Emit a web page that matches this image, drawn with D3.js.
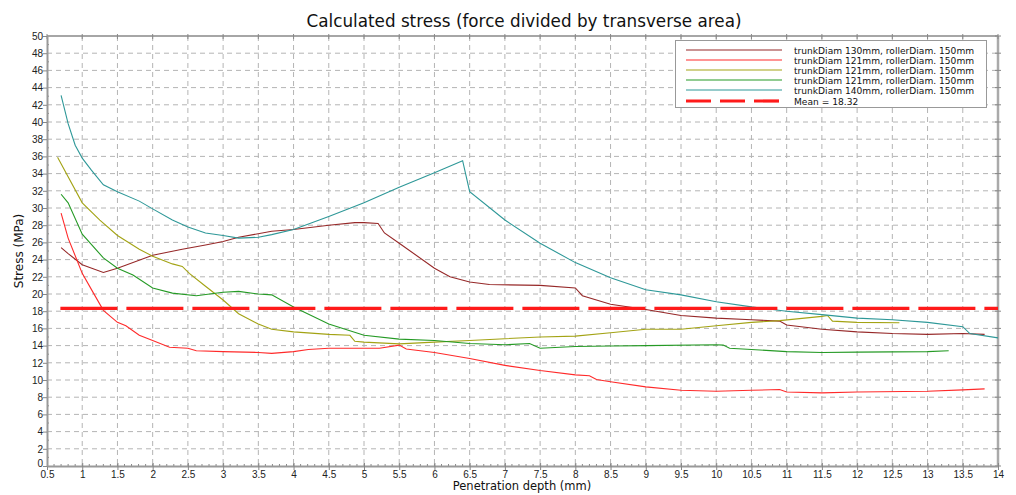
<!DOCTYPE html>
<html lang="en">
<head>
<meta charset="UTF-8">
<title>Calculated stress</title>
<script src="https://d3js.org/d3.v7.min.js"></script>
<style>
    body { margin: 0; background: #fff; }
    svg { display: block; font-family: "DejaVu Sans", sans-serif; }
    .tick text { font-size: 10px; fill: #222; }
</style>
</head>
<body>
<svg width="1016" height="495"></svg>
<script>
    // series data (depth mm, stress MPa)
    let x130 = [0.7,0.8,1.0,1.3,1.5,2.0,2.42,2.75,3.0,3.22,3.69,4.0,4.5,4.87,5.0,5.2,5.29,5.5,6.0,6.22,6.5,6.78,7.5,8.0,8.1,8.5,9.0,9.5,10.0,10.5,10.9,11.0,11.5,12.0,12.5,13.0,13.5,13.81];
    let y130 = [25.4,24.7,23.4,22.5,23.0,24.5,25.2,25.7,26.1,26.6,27.3,27.5,28.0,28.3,28.3,28.2,27.1,25.9,23.0,22.0,21.4,21.1,21.0,20.7,19.8,18.8,18.2,17.5,17.2,17.0,16.85,16.4,15.9,15.6,15.4,15.3,15.4,15.3];

    let x121a = [0.7,0.8,1.0,1.16,1.3,1.5,1.62,1.81,2.0,2.24,2.5,2.62,3.0,3.5,3.69,4.0,4.21,4.5,5.0,5.22,5.5,5.6,6.0,6.5,7.0,7.5,8.0,8.2,8.3,8.5,9.0,9.5,10.0,10.5,10.9,11.0,11.5,12.0,13.0,13.5,13.81];
    let y121a = [29.4,26.5,22.4,20.1,18.1,16.7,16.3,15.2,14.6,13.8,13.7,13.4,13.3,13.2,13.1,13.3,13.55,13.7,13.7,13.7,14.06,13.6,13.2,12.5,11.7,11.1,10.6,10.5,10.06,9.8,9.2,8.8,8.7,8.8,8.9,8.6,8.5,8.6,8.7,8.85,8.97];

    let x121b = [0.65,1.0,1.25,1.5,1.81,2.0,2.28,2.42,2.52,2.75,3.0,3.22,3.5,3.69,4.0,4.5,4.8,4.87,5.0,5.5,6.0,6.5,7.0,7.5,8.0,8.5,9.0,9.5,10.0,10.5,10.9,11.5,11.58,11.65,12.0,12.6];
    let y121b = [35.9,30.6,28.6,26.8,25.2,24.4,23.5,23.2,22.4,20.9,19.3,17.7,16.5,15.9,15.6,15.3,15.2,14.5,14.4,14.2,14.4,14.6,14.8,15.0,15.1,15.5,15.9,15.9,16.3,16.7,16.9,17.4,17.5,16.85,16.7,16.66];

    let x121c = [0.7,0.8,1.0,1.3,1.5,1.72,2.0,2.28,2.62,3.0,3.22,3.5,3.69,4.0,4.5,5.0,5.5,6.0,6.5,7.0,7.35,7.5,8.0,8.5,9.0,10.0,10.1,10.19,10.5,11.0,11.5,12.0,13.0,13.3];
    let y121c = [31.6,30.6,26.95,24.2,23.0,22.2,20.7,20.1,19.8,20.2,20.3,20.0,19.9,18.5,16.5,15.2,14.75,14.6,14.25,14.1,14.25,13.7,13.9,13.95,14.0,14.1,14.06,13.7,13.55,13.3,13.2,13.24,13.3,13.4];

    let x140 = [0.7,0.8,0.9,1.0,1.13,1.3,1.5,1.81,2.0,2.28,2.5,2.75,3.0,3.22,3.5,3.69,4.0,4.5,5.0,5.5,6.0,6.4,6.5,7.0,7.5,8.0,8.5,9.0,9.5,10.0,10.5,11.0,11.5,12.0,12.5,13.0,13.5,13.6,14.0];
    let y140 = [43.1,39.8,37.3,35.8,34.4,32.7,31.9,30.8,29.9,28.6,27.8,27.1,26.8,26.5,26.6,26.9,27.5,29.0,30.6,32.4,34.1,35.5,31.9,28.6,25.9,23.65,21.9,20.5,19.9,19.1,18.5,18.0,17.6,17.2,17.0,16.7,16.2,15.4,14.9];

    let seriesNames = ["trunkDiam 130mm, rollerDiam. 150mm", "trunkDiam 121mm, rollerDiam. 150mm",
        "trunkDiam 121mm, rollerDiam. 150mm", "trunkDiam 121mm, rollerDiam. 150mm", "trunkDiam 140mm, rollerDiam. 150mm"];
    let meanValue = 18.32;
    let meanRange = [0.69, 14];

    let xTicks = d3.range(0.5, 14.01, 0.5);
    let yTicks = d3.range(0, 50.1, 2);

    let svg = d3.select('svg');
    let m = {left: 47, right: 18, top: 36, bottom: 29};
    let W = 1016, H = 495;

    let xScale = d3.scaleLinear().domain([0.5, 14]).range([m.left, W - m.right]);
    let yScale = d3.scaleLinear().domain([0, 50]).range([H - m.bottom, m.top]);

    // grid
    let grid = svg.append('g').attr('stroke', '#b4b4b4').attr('stroke-dasharray', '5,4').attr('stroke-width', 1);
    grid.selectAll('.vg').data(xTicks.slice(1, -1)).enter().append('line')
        .attr('x1', d => xScale(d)).attr('x2', d => xScale(d))
        .attr('y1', m.top).attr('y2', H - m.bottom);
    grid.selectAll('.hg').data(yTicks.slice(1, -1)).enter().append('line')
        .attr('y1', d => yScale(d)).attr('y2', d => yScale(d))
        .attr('x1', m.left).attr('x2', W - m.right);

    // frame (top and right)
    svg.append('line').attr('x1', m.left).attr('x2', W - m.right).attr('y1', m.top).attr('y2', m.top)
        .attr('stroke', '#888').attr('stroke-width', 1.5);
    svg.append('line').attr('x1', W - m.right).attr('x2', W - m.right).attr('y1', m.top).attr('y2', H - m.bottom)
        .attr('stroke', '#aaa').attr('stroke-width', 2.5);

    // minor ticks
    let minor = svg.append('g').attr('stroke', '#888').attr('stroke-width', 1);
    minor.selectAll('.mx').data(d3.range(0.6, 14, 0.1)).enter().append('line')
        .attr('x1', d => xScale(d)).attr('x2', d => xScale(d))
        .attr('y1', H - m.bottom).attr('y2', H - m.bottom - 2);
    minor.selectAll('.my').data(d3.range(1, 50, 2)).enter().append('line')
        .attr('y1', d => yScale(d)).attr('y2', d => yScale(d))
        .attr('x1', m.left).attr('x2', m.left + 2);
    minor.selectAll('.ry').data(yTicks).enter().append('line')
        .attr('y1', d => yScale(d)).attr('y2', d => yScale(d))
        .attr('x1', W - m.right - 3).attr('x2', W - m.right + 3);
    minor.selectAll('.tx').data(xTicks).enter().append('line')
        .attr('x1', d => xScale(d)).attr('x2', d => xScale(d))
        .attr('y1', m.top - 2).attr('y2', m.top + 3);

    // axes
    let xAxis = svg.append('g').attr('transform', 'translate(0,' + (H - m.bottom) + ')')
        .call(d3.axisBottom(xScale).tickValues(xTicks).tickSize(4).tickSizeOuter(0).tickFormat(d3.format('')));
    let yAxis = svg.append('g').attr('transform', 'translate(' + m.left + ',0)')
        .call(d3.axisLeft(yScale).tickValues(yTicks).tickSize(4).tickSizeOuter(0));
    [xAxis, yAxis].forEach(a => {
        a.select('.domain').attr('stroke', '#999').attr('stroke-width', 2);
        a.selectAll('.tick line').attr('stroke', '#888');
    });
    xAxis.selectAll('.tick line').attr('y1', -3);
    xAxis.selectAll('.tick text').attr('dy', '0.6em').attr('y', 6);
    yAxis.selectAll('.tick text').attr('x', -4).attr('font-size', 9.5)
        .attr('dy', d => d === 0 ? '0.05em' : '0.32em');

    // series
    let colors = ['#962828', '#ff2a2a', '#a3a314', '#259a25', '#2e9898'];
    let series = [[x130, y130], [x121a, y121a], [x121b, y121b], [x121c, y121c], [x140, y140]];
    let line = d3.line().x(d => xScale(d[0])).y(d => yScale(d[1]));
    svg.append('g').selectAll('path').data(series).enter().append('path')
        .attr('d', d => line(d3.zip(d[0], d[1])))
        .attr('fill', 'none')
        .attr('stroke', (d, i) => colors[i])
        .attr('stroke-width', 1.1);

    // mean line
    svg.append('line')
        .attr('x1', xScale(meanRange[0])).attr('x2', xScale(meanRange[1]))
        .attr('y1', yScale(meanValue)).attr('y2', yScale(meanValue))
        .attr('stroke', '#ff1a1a').attr('stroke-width', 3.2).attr('stroke-dasharray', '57,9');

    // legend
    let lg = svg.append('g');
    lg.append('rect').attr('x', 675.5).attr('y', 40.5).attr('width', 311).attr('height', 67)
        .attr('fill', '#fff').attr('stroke', '#999').attr('stroke-width', 1);
    seriesNames.forEach((name, i) => {
        let y = 50 + i * 10;
        lg.append('line').attr('x1', 686).attr('x2', 782).attr('y1', y).attr('y2', y)
            .attr('stroke', colors[i]).attr('stroke-width', 1.1);
        lg.append('text').attr('x', 794).attr('y', y + 3.5).attr('font-size', 9.1).attr('fill', '#111').text(name);
    });
    lg.append('line').attr('x1', 686).attr('x2', 782).attr('y1', 101).attr('y2', 101)
        .attr('stroke', '#ff1a1a').attr('stroke-width', 3.2).attr('stroke-dasharray', '25,9');
    lg.append('text').attr('x', 794).attr('y', 104.5).attr('font-size', 9.1).attr('fill', '#111').text('Mean = ' + meanValue);

    // titles
    svg.append('text').attr('x', 524).attr('y', 27).attr('text-anchor', 'middle')
        .attr('font-size', 16.8).attr('fill', '#111').text('Calculated stress (force divided by transverse area)');
    svg.append('text').attr('x', 522).attr('y', 490).attr('text-anchor', 'middle')
        .attr('font-size', 11.5).attr('fill', '#111').text('Penetration depth (mm)');
    svg.append('text').attr('transform', 'translate(23,' + ((m.top + H - m.bottom) / 2) + ') rotate(-90)')
        .attr('text-anchor', 'middle')
        .attr('font-size', 12).attr('fill', '#111').text('Stress (MPa)');
</script>
</body>
</html>
